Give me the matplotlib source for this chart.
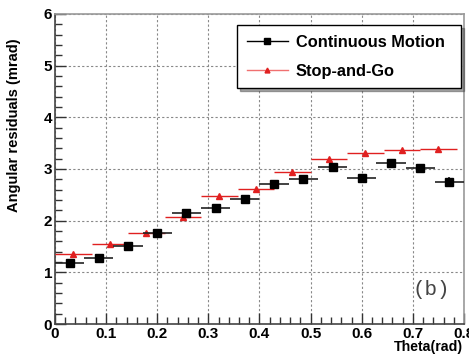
import matplotlib
matplotlib.use("Agg")
import matplotlib.pyplot as plt
from matplotlib.ticker import MultipleLocator
from matplotlib.lines import Line2D

plt.rcParams['font.family'] = ['Liberation Sans', 'DejaVu Sans']

# Continuous Motion (14 bins, 0..0.8)
cm_x = [0.0286, 0.0857, 0.1429, 0.2000, 0.2571, 0.3143, 0.3714,
        0.4286, 0.4857, 0.5429, 0.6000, 0.6571, 0.7143, 0.7714]
cm_y = [1.19, 1.28, 1.51, 1.76, 2.15, 2.24, 2.41, 2.70, 2.80, 3.04, 2.83, 3.11, 3.01, 2.75]
cm_xerr = [0.0286] * 14
cm_yerr = [0.04, 0.04, 0.04, 0.05, 0.07, 0.08, 0.05, 0.08, 0.08, 0.06, 0.07, 0.08, 0.08, 0.10]

# Stop-and-Go (11 bins)
sg_x = [0.0357, 0.1071, 0.1786, 0.2500, 0.3214, 0.3929, 0.4643, 0.5357, 0.6071, 0.6786, 0.7500]
sg_y = [1.36, 1.55, 1.76, 2.07, 2.47, 2.62, 2.95, 3.20, 3.31, 3.37, 3.39]
sg_xerr = [0.0357] * 11
sg_yerr = [0.02] * 11

fig = plt.figure(figsize=(4.69, 3.55), dpi=100)
ax = fig.add_axes([0.1173, 0.0873, 0.8720, 0.8733])

red = '#e02020'
ax.errorbar(sg_x, sg_y, xerr=sg_xerr, yerr=sg_yerr, fmt='^', color=red, ms=4.5,
            ecolor=red, elinewidth=1.0, capsize=0, zorder=3)
ax.errorbar(cm_x, cm_y, xerr=cm_xerr, yerr=cm_yerr, fmt='s', color='black', ms=6,
            ecolor='#222222', elinewidth=1.2, capsize=0, zorder=4)

ax.set_xlim(0, 0.8)
ax.set_ylim(0, 6)
ax.xaxis.set_minor_locator(MultipleLocator(0.02))
ax.yaxis.set_major_locator(MultipleLocator(1))
ax.yaxis.set_minor_locator(MultipleLocator(0.2))
ax.set_xticks([0, 0.1, 0.2, 0.3, 0.4, 0.5, 0.6, 0.7, 0.8])
ax.set_xticklabels(['0', '0.1', '0.2', '0.3', '0.4', '0.5', '0.6', '0.7', '0.8'])
ax.tick_params(which='major', direction='in', length=8, width=1, colors='#333333',
               labelsize=11, labelcolor='black', top=False, right=False)
ax.tick_params(which='minor', direction='in', length=5, width=1, colors='#333333',
               top=False, right=False)
for lab in ax.get_xticklabels() + ax.get_yticklabels():
    lab.set_fontweight('bold')
ax.tick_params(axis='x', pad=2)
ax.tick_params(axis='y', pad=2)

ax.grid(True, which='major', linestyle=(0, (2, 2)), color='#888888', linewidth=0.8)
for s in ['top', 'right']:
    ax.spines[s].set_color('#999999')
for s in ['left', 'bottom']:
    ax.spines[s].set_color('#444444')
for s in ax.spines.values():
    s.set_linewidth(1.2)

ax.set_ylabel('Angular residuals (mrad)', fontsize=10.5, fontweight='bold')
ax.yaxis.set_label_coords(-0.082, 0.64)
fig.text(0.987, 0.004, 'Theta(rad)', ha='right', va='bottom', fontsize=10.2, fontweight='bold')

handles = [Line2D([], [], color='black', marker='s', ms=5, lw=1.0),
           Line2D([], [], color='#f07070', marker='^', ms=3.5, mfc=red, mec=red, lw=1.0)]
labels = ['Continuous Motion', 'Stop-and-Go']
leg = ax.legend(handles, labels, loc='upper left',
                bbox_to_anchor=(0.445, 0.965, 0.548, 0.0), mode='expand',
                frameon=True, fancybox=False, shadow=True, edgecolor='black',
                prop={'weight': 'bold', 'size': 11.8}, handlelength=2.5,
                borderpad=0.6, labelspacing=0.85, handletextpad=0.5, borderaxespad=0)
leg.get_frame().set_linewidth(1.0)

ax.text(0.92, 0.11, '(b)', transform=ax.transAxes, ha='center', va='center',
        fontsize=15, family='Liberation Mono', color='#444444')

fig.savefig('out.png', dpi=100)
